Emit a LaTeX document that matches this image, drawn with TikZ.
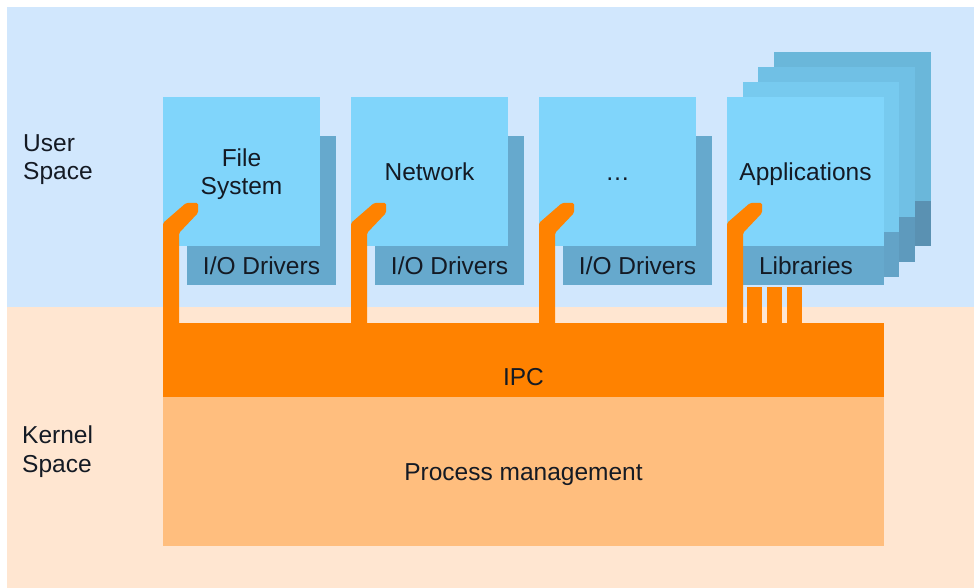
\documentclass[tikz,border=0pt]{standalone}
\usepackage{fontspec}
\setmainfont{Liberation Sans}
\begin{document}
\begin{tikzpicture}[x=1pt,y=-1pt,
  txt/.style={text=inkc,font=\fontsize{24.5}{28.5}\selectfont,inner sep=0pt},
  boxc/.style={inner sep=0pt,outer sep=0pt,anchor=north west,draw=none}]
\definecolor{userbg}{HTML}{D1E7FD}
\definecolor{kernbg}{HTML}{FFE6D1}
\definecolor{srvlight}{HTML}{80D5FB}
\definecolor{srvdark}{HTML}{66A9CD}
\definecolor{ipcc}{HTML}{FF8200}
\definecolor{procc}{HTML}{FFBE7E}
\definecolor{inkc}{HTML}{141A24}
\definecolor{aoneL}{HTML}{77CAEF}
\definecolor{aoneD}{HTML}{63A3C7}
\definecolor{atwoL}{HTML}{70C0E5}
\definecolor{atwoD}{HTML}{5E9ABD}
\definecolor{athreeL}{HTML}{6AB7DA}
\definecolor{athreeD}{HTML}{5A91B2}
\useasboundingbox (0,0) rectangle (974,588);
% background bands
\fill[userbg] (7,7) rectangle (974,307);
\fill[kernbg] (7,307) rectangle (974,588);

% server blocks: driver layer behind the server box
\foreach \L/\n in {163/fs,351/net,539/etc}{
  \fill[srvdark] (\L+24,136) rectangle (\L+173,285);
  \fill[srvlight] (\L,97) rectangle (\L+157,246);
}
% application stack (back to front)
\fill[athreeL] (774,52) rectangle (931,201);
\fill[athreeD] (774,201) rectangle (931,246);
\fill[atwoL] (758,67) rectangle (915,217);
\fill[atwoD] (758,217) rectangle (915,262);
\fill[aoneL] (743,82) rectangle (899,232);
\fill[aoneD] (743,232) rectangle (899,277);
\fill[srvlight] (727,97) rectangle (884,246);
\fill[srvdark] (727,246) rectangle (884,285);

% kernel layers
\node[boxc,fill=procc,minimum width=721pt,minimum height=149pt] (proc) at (163,397) {};
\node[boxc,fill=ipcc,minimum width=721pt,minimum height=74pt] (ipc) at (163,323) {};

% IPC pipes reaching into each block
\foreach \L in {163,351,539,727}{
  \fill[ipcc,rounded corners=1.5pt] (\L,330) -- (\L,223) -- (\L+23,203) -- (\L+35,203)
     -- (\L+35,213) -- (\L+16,233) -- (\L+16,330) -- cycle;
}
\foreach \X in {747,767,787}{
  \fill[ipcc] (\X,287) rectangle (\X+15,330);
}

% labels
\node[txt,anchor=base west] (us1) at (23,152) {User};
\node[txt,anchor=base west] (us2) at (23,180) {Space};
\node[txt,anchor=base west] (ks1) at (22,443) {Kernel};
\node[txt,anchor=base west] (ks2) at (22,472) {Space};
\node[txt,anchor=base] (fs1) at (241.5,167) {File};
\node[txt,anchor=base] (fs2) at (241.5,195) {System};
\node[txt,anchor=base] (netl) at (429.5,181) {Network};
\node[txt,anchor=base] (etcl) at (617.5,181) {…};
\node[txt,anchor=base] (appl) at (805.5,181) {Applications};
\node[txt,anchor=base] (d1) at (261.5,274) {I/O Drivers};
\node[txt,anchor=base] (d2) at (449.5,274) {I/O Drivers};
\node[txt,anchor=base] (d3) at (637.5,274) {I/O Drivers};
\node[txt,anchor=base] (libl) at (806,274) {Libraries};
\node[txt,anchor=base] (ipcl) at (523.5,385) {IPC};
\node[txt,anchor=base] (procl) at (523.5,480) {Process management};
\end{tikzpicture}
\end{document}
